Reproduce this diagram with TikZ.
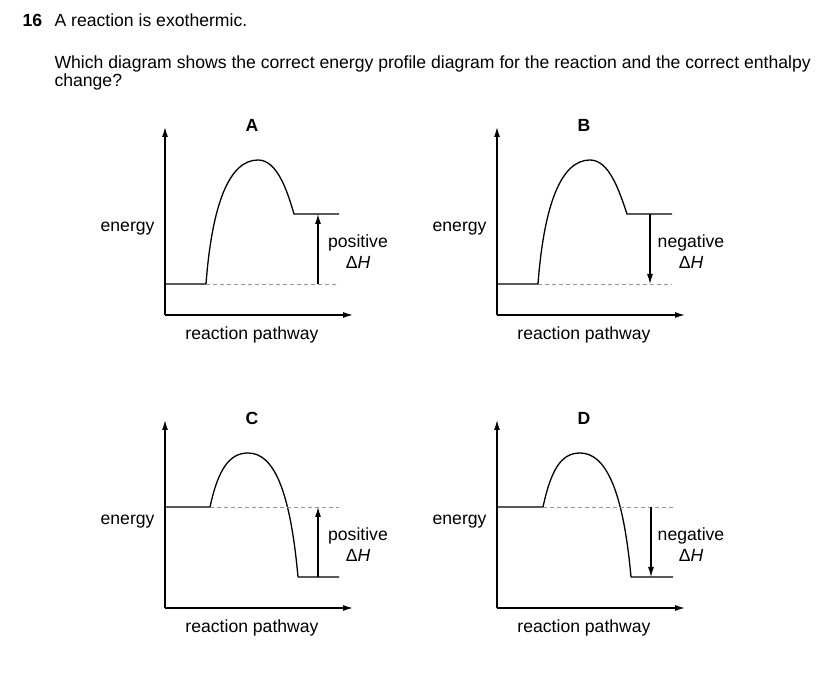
\documentclass[tikz,border=0pt]{standalone}
\usepackage{fontspec}
\setmainfont{Liberation Sans}
\usepackage{tikz}
\usetikzlibrary{arrows.meta}
\definecolor{guidegrey}{RGB}{150,150,150}

\newcommand{\examfont}{\fontsize{17.6}{21}\selectfont}

\tikzset{
  boldlabel/.style={font=\examfont\bfseries},
  axisline/.style={line width=1.3pt, -{Latex[length=10pt,width=6pt]}},
  profile/.style={line width=1.3pt, line join=round},
  levelguide/.style={guidegrey, line width=0.9pt, dash pattern=on 4pt off 3pt},
  deltaarrow/.style={line width=1.1pt, -{Latex[length=10pt,width=6pt]}},
}

% axes, axis labels and panel letter of one energy profile
\newcommand{\panelframe}[1]{%
  \coordinate (#1o) at (0,0);
  \coordinate (#1top) at (0,188);
  \coordinate (#1right) at (188,0);
  \draw[axisline] (#1o) -- (#1top);
  \draw[axisline] (#1o) -- (#1right);
  \node[anchor=east] (#1energy) at (-7,86) {energy};
  \node (#1pathway) at (87,-20) {reaction pathway};
  \node[boldlabel] (#1letter) at (87,190) {#1};
}

\begin{document}
\begin{tikzpicture}[x=1pt, y=1pt, font=\examfont]
  \useasboundingbox (0,0) rectangle (831,673);
  \fill[white] (0,0) rectangle (831,673);

  \node[anchor=base west, boldlabel] (qnum) at (19,646) {16};
  \node[anchor=base west] (qstem) at (51,646) {A reaction is exothermic.};
  \node[anchor=base west] (qline1) at (51,604) {Which diagram shows the correct energy profile diagram for the reaction and the correct enthalpy};
  \node[anchor=base west] (qline2) at (51,586) {change?};

  % A: endothermic, positive
  \begin{scope}[shift={(165,358)}]
    \panelframe{A}
    \coordinate (Areac) at (41,31);
    \coordinate (Apeak) at (93,155);
    \coordinate (Aprod) at (129,101);
    \coordinate (Aend) at (174,101);
    \coordinate (Aguide) at (174,31);
    \draw[profile] (Ao |- Areac) -- (Areac) .. controls (47,110) and (64,155) .. (Apeak)
         .. controls (112,155) and (122,125) .. (Aprod) -- (Aend);
    \draw[levelguide] (Areac) -- (Aguide);
    \draw[deltaarrow] (153,31) -- (153,101);
    \node[align=center] (Alabel) at (193,63) {positive\\Δ\textit{H}};
  \end{scope}

  % B: endothermic, negative
  \begin{scope}[shift={(497,358)}]
    \panelframe{B}
    \coordinate (Breac) at (41,31);
    \coordinate (Bpeak) at (93,155);
    \coordinate (Bprod) at (130,101);
    \coordinate (Bend) at (175,101);
    \coordinate (Bguide) at (175,31);
    \draw[profile] (Bo |- Breac) -- (Breac) .. controls (47,110) and (64,155) .. (Bpeak)
         .. controls (112,155) and (122,125) .. (Bprod) -- (Bend);
    \draw[levelguide] (Breac) -- (Bguide);
    \draw[deltaarrow] (153,101) -- (153,31);
    \node[align=center] (Blabel) at (194,63) {negative\\Δ\textit{H}};
  \end{scope}

  % C: exothermic, positive
  \begin{scope}[shift={(165,65)}]
    \panelframe{C}
    \coordinate (Creac) at (45,101);
    \coordinate (Cpeak) at (83,155);
    \coordinate (Cprod) at (133,31);
    \coordinate (Cend) at (174,31);
    \coordinate (Cguide) at (174,101);
    \draw[profile] (Co |- Creac) -- (Creac) .. controls (53,138) and (64,155) .. (Cpeak)
         .. controls (108,155) and (125,120) .. (Cprod) -- (Cend);
    \draw[levelguide] (Creac) -- (Cguide);
    \draw[deltaarrow] (153,31) -- (153,101);
    \node[align=center] (Clabel) at (193,63) {positive\\Δ\textit{H}};
  \end{scope}

  % D: exothermic, negative
  \begin{scope}[shift={(497,65)}]
    \panelframe{D}
    \coordinate (Dreac) at (46,101);
    \coordinate (Dpeak) at (83,155);
    \coordinate (Dprod) at (134,31);
    \coordinate (Dend) at (176,31);
    \coordinate (Dguide) at (176,101);
    \draw[profile] (Do |- Dreac) -- (Dreac) .. controls (54,138) and (64,155) .. (Dpeak)
         .. controls (108,155) and (126,120) .. (Dprod) -- (Dend);
    \draw[levelguide] (Dreac) -- (Dguide);
    \draw[deltaarrow] (154,101) -- (154,31);
    \node[align=center] (Dlabel) at (194,63) {negative\\Δ\textit{H}};
  \end{scope}
\end{tikzpicture}
\end{document}
